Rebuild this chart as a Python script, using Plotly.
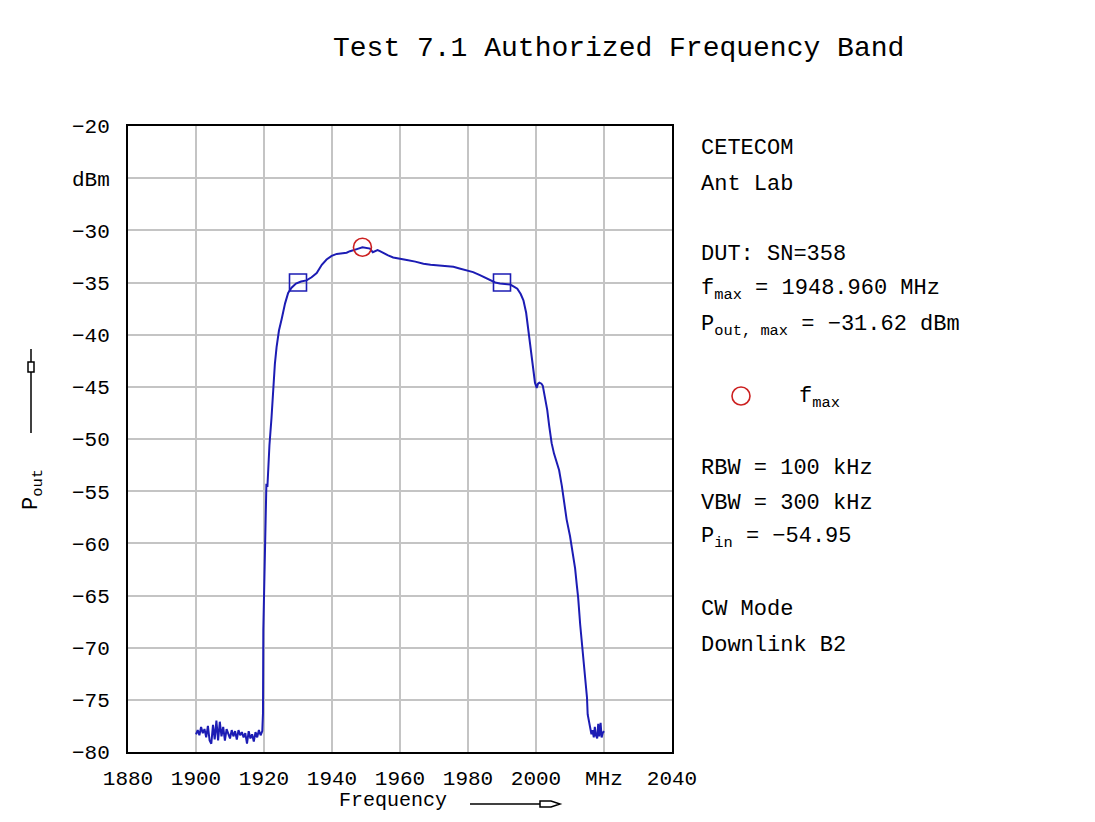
import plotly.graph_objs as go

# sweep
freq_mhz = [
    1900.0, 1900.5, 1901.0, 1901.5, 1902.0, 1902.5, 1903.0, 1903.5, 1904.0, 1904.5,
    1905.0, 1905.5, 1906.0, 1906.5, 1907.0, 1907.5, 1908.0, 1908.5, 1909.0, 1909.5,
    1910.0, 1910.5, 1911.0, 1911.5, 1912.0, 1912.5, 1913.0, 1913.5, 1914.0, 1914.5,
    1915.0, 1915.5, 1916.0, 1916.5, 1917.0, 1917.5, 1918.0, 1918.5, 1919.0, 1919.5,
    1919.7, 1919.8, 1920.2, 1920.5, 1920.7, 1921.0, 1921.2, 1921.6, 1922.2, 1922.7,
    1923.2, 1923.7, 1924.4, 1925.2, 1926.2, 1927.1, 1928.1, 1929.4, 1930.9, 1932.5,
    1934.0, 1935.5, 1937.0, 1938.4, 1939.9, 1941.4, 1943.0, 1944.3, 1945.3, 1946.5,
    1947.3, 1948.96, 1950.2, 1951.2, 1952.0, 1952.6, 1953.4, 1954.1, 1955.1, 1956.5,
    1958.0, 1960.0, 1962.0, 1964.5, 1966.9, 1969.0, 1971.0, 1973.5, 1975.7, 1977.5,
    1979.6, 1981.5, 1983.5, 1985.0, 1986.5, 1988.0, 1989.4, 1991.0, 1992.4, 1993.5,
    1994.5, 1995.5, 1996.3, 1997.1, 1997.7, 1998.2, 1998.7, 1999.2, 1999.7, 2000.2,
    2000.6, 2001.0, 2001.6, 2002.0, 2002.6, 2003.3, 2003.9, 2004.6, 2005.3, 2006.1,
    2006.8, 2007.6, 2008.2, 2009.0, 2010.0, 2010.8, 2011.5, 2012.0, 2012.4, 2013.0,
    2013.7, 2014.3, 2015.0, 2015.2, 2015.9, 2016.3, 2016.6, 2017.0, 2017.3, 2017.6,
    2018.0, 2018.3, 2018.6, 2019.0, 2019.3, 2019.6, 2020.0,
]
pout_dbm = [
    -78.3, -77.9, -78.4, -77.6, -78.2, -77.8, -78.6, -77.5, -78.9, -79.2,
    -77.4, -78.8, -77.0, -78.9, -77.1, -78.5, -77.6, -78.9, -77.8, -78.3,
    -78.7, -77.9, -78.5, -78.0, -78.8, -77.9, -78.4, -78.1, -78.6, -78.2,
    -79.2, -78.0, -78.7, -78.3, -79.0, -78.1, -78.6, -77.9, -78.4, -78.0,
    -76.3, -68.3, -62.5, -56.5, -54.3, -54.6, -53.0, -50.6, -48.0, -45.2,
    -42.8, -41.2, -39.6, -38.5, -37.0, -36.0, -35.5, -35.1, -34.9, -34.8,
    -34.5, -34.1, -33.3, -32.8, -32.45, -32.26, -32.2, -32.15, -32.0, -31.9,
    -31.8, -31.62, -31.7, -31.75, -32.1, -32.0, -31.9, -32.0, -32.2, -32.4,
    -32.6, -32.75, -32.85, -33.0, -33.2, -33.3, -33.35, -33.4, -33.5, -33.65,
    -33.8, -34.0, -34.3, -34.55, -34.75, -35.0, -35.1, -35.15, -35.2, -35.4,
    -35.6, -36.1, -36.7, -37.9, -39.5, -41.1, -42.4, -43.7, -44.6, -45.1,
    -44.7, -44.6, -44.7, -44.9, -45.9, -47.2, -48.8, -50.4, -51.4, -52.2,
    -53.0, -54.5, -56.1, -57.7, -59.3, -60.9, -62.4, -64.0, -65.2, -67.8,
    -70.2, -72.5, -74.8, -76.4, -77.7, -78.3, -77.9, -78.6, -77.6, -78.4,
    -78.7, -77.3, -78.5, -77.2, -78.6, -78.2, -78.0,
]

# band edge markers (-35 dBm) and maximum
edge_f = [1930.0, 1990.0]
edge_p = [-35.0, -35.0]
max_f = [1948.96]
max_p = [-31.62]

x_ticks = [1880, 1900, 1920, 1940, 1960, 1980, 2000, 2020, 2040]
x_labels = ["1880", "1900", "1920", "1940", "1960", "1980", "2000", "MHz", "2040"]
y_ticks = [-80, -75, -70, -65, -60, -55, -50, -45, -40, -35, -30, -25, -20]
y_labels = ["−80", "−75", "−70", "−65", "−60", "−55", "−50", "−45", "−40",
            "−35", "−30", "dBm", "−20"]

info_lines = [
    "CETECOM",
    "Ant Lab",
    "DUT: SN=358",
    "f<sub>max</sub> = 1948.960 MHz",
    "P<sub>out, max</sub> = −31.62 dBm",
    "RBW = 100 kHz",
    "VBW = 300 kHz",
    "P<sub>in</sub> = −54.95",
    "CW Mode",
    "Downlink B2",
]
info_y = [148, 184, 254, 290, 326, 468, 503, 538, 609, 645]

FONT = "Liberation Mono, DejaVu Sans Mono, monospace"
BLUE = "#1c1cb4"
RED = "#cc2020"
BG = "#ffffff"

# page coordinates of the plot frame; the html body adds an 8px margin
W, H = 1095, 822
L, R, T, B = 128, 672, 126, 752
PAD = 8


def px(x):
    return (x - L) / (R - L)


def py(y):
    return (B - y) / (B - T)


fig = go.Figure()
fig.add_trace(go.Scatter(x=freq_mhz, y=pout_dbm, mode="lines",
                         line=dict(color=BLUE, width=2)))
fig.add_trace(go.Scatter(x=edge_f, y=edge_p, mode="markers",
                         marker=dict(symbol="square-open", size=17, color=BLUE,
                                     line=dict(width=1.6, color=BLUE))))
fig.add_trace(go.Scatter(x=max_f, y=max_p, mode="markers",
                         marker=dict(symbol="circle-open", size=18, color=RED,
                                     line=dict(width=1.6, color=RED))))

annotations = [
    dict(text="Test 7.1 Authorized Frequency Band", x=px(618), y=py(48),
         font=dict(size=28)),
    dict(text="P<sub>out</sub>", x=px(33), y=py(490), textangle=-90,
         font=dict(size=22)),
    dict(text="Frequency", x=px(337), y=py(814), xanchor="left", yanchor="bottom",
         font=dict(size=20)),
    dict(text="f<sub>max</sub>", x=px(797), y=py(398), xanchor="left",
         font=dict(size=22)),
]
for txt, yy in zip(info_lines, info_y):
    annotations.append(dict(text=txt, x=px(699), y=py(yy), xanchor="left",
                            font=dict(size=22)))
for a in annotations:
    a.update(xref="paper", yref="paper", showarrow=False)
    a.setdefault("xanchor", "center")
    a.setdefault("yanchor", "middle")
    a["font"].update(family=FONT, color="black")

shapes = [
    # y label arrow
    dict(type="line", x0=px(31), x1=px(31), y0=py(433), y1=py(349),
         line=dict(color="black", width=1.5)),
    dict(type="rect", x0=px(28), x1=px(34), y0=py(372), y1=py(362),
         line=dict(color="black", width=1.5), fillcolor=BG),
    # x label arrow
    dict(type="line", x0=px(470), x1=px(540), y0=py(804), y1=py(804),
         line=dict(color="black", width=1.5)),
    dict(type="path",
         path=f"M {px(540)},{py(801)} L {px(551)},{py(801)} L {px(560)},{py(804)} "
              f"L {px(551)},{py(807)} L {px(540)},{py(807)} Z",
         line=dict(color="black", width=1.5), fillcolor=BG),
    # legend symbol for f_max
    dict(type="circle", x0=px(732), x1=px(750), y0=py(405), y1=py(387),
         line=dict(color=RED, width=1.6)),
]
for s in shapes:
    s.update(xref="paper", yref="paper")

axis_common = dict(showline=True, mirror=True, linecolor="black", linewidth=2,
                   showgrid=True, gridcolor="#c4c4c4", gridwidth=2,
                   zeroline=False, ticks="", tickmode="array",
                   tickfont=dict(family=FONT, size=21, color="black"))

fig.update_layout(
    width=W - 2 * PAD, height=H - 2 * PAD, autosize=False,
    margin=dict(l=L - PAD, r=W - R - PAD, t=T - PAD, b=H - B - PAD),
    paper_bgcolor=BG, plot_bgcolor=BG,
    showlegend=False,
    xaxis=dict(range=[1880, 2040], tickvals=x_ticks, ticktext=x_labels,
               ticklabelstandoff=6, **axis_common),
    yaxis=dict(range=[-80, -20], tickvals=y_ticks, ticktext=y_labels,
               ticklabelstandoff=12, **axis_common),
    annotations=annotations,
    shapes=shapes,
)

fig.write_html("out.html")
